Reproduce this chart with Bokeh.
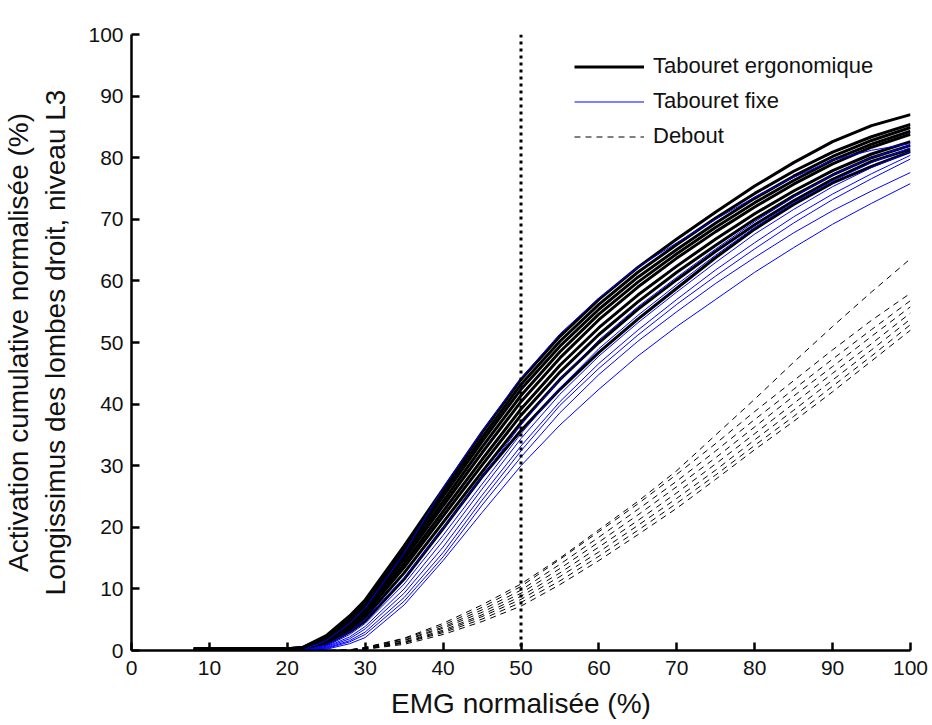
import math
from bokeh.plotting import figure
from bokeh.models import Span, Legend, LegendItem, FixedTicker
from bokeh.embed import file_html
from bokeh.resources import INLINE

nan = float("nan")

# EMG normalisée (%) sample points
emg = [0, 8, 20, 22, 25, 28, 30, 35, 40, 45, 50, 55, 60, 65, 70, 75, 80, 85, 90, 95, 100]

# Tabouret ergonomique (black, thick)
ergo_1 = [nan, 0.3, 0.3, 0.5, 2.4, 5.6, 8.2, 17.0, 26.2, 35.4, 44.0, 51.0, 57.0, 62.2, 66.8, 71.2, 75.4, 79.2, 82.6, 85.2, 87.0]
ergo_2 = [nan, 0.3, 0.3, 0.5, 2.2, 5.2, 7.8, 16.5, 25.6, 34.6, 43.2, 50.2, 56.2, 61.4, 65.9, 70.2, 74.2, 77.8, 80.9, 83.4, 85.4]
ergo_3 = [nan, 0.3, 0.3, 0.4, 2.1, 5.0, 7.5, 16.0, 25.0, 33.9, 42.4, 49.4, 55.4, 60.6, 65.1, 69.4, 73.4, 77.0, 80.2, 82.8, 84.9]
ergo_4 = [nan, 0.3, 0.3, 0.4, 1.9, 4.7, 7.1, 15.4, 24.2, 33.0, 41.4, 48.5, 54.6, 59.8, 64.4, 68.7, 72.7, 76.3, 79.6, 82.2, 84.3]
ergo_5 = [nan, 0.3, 0.3, 0.4, 1.8, 4.4, 6.7, 14.8, 23.5, 32.1, 40.4, 47.5, 53.7, 59.0, 63.7, 68.0, 72.0, 75.7, 79.0, 81.7, 83.8]
ergo_6 = [nan, 0.2, 0.2, 0.3, 1.6, 4.1, 6.3, 14.1, 22.6, 31.0, 39.2, 46.3, 52.4, 57.7, 62.4, 66.8, 70.9, 74.6, 77.9, 80.6, 82.6]
ergo_7 = [nan, 0.2, 0.2, 0.3, 1.4, 3.8, 5.9, 13.5, 21.8, 30.1, 38.2, 45.2, 51.3, 56.6, 61.4, 65.8, 70.0, 73.8, 77.2, 80.0, 82.0]
ergo_8 = [nan, 0.2, 0.2, 0.3, 1.2, 3.4, 5.4, 12.6, 20.8, 29.0, 37.0, 44.0, 50.0, 55.4, 60.2, 64.8, 69.1, 73.0, 76.5, 79.4, 81.4]
ergo_9 = [nan, 0.2, 0.2, 0.2, 1.0, 3.0, 4.8, 11.6, 19.8, 28.2, 35.7, 42.4, 48.4, 53.8, 58.8, 63.8, 68.4, 72.4, 75.9, 78.6, 81.0]

# Tabouret fixe (blue, thin)
fixe_1 = [0, 0, 0, 0.1, 1.6, 4.4, 6.9, 15.8, 26.4, 35.6, 44.2, 51.4, 57.2, 62.2, 66.2, 70.0, 73.6, 76.8, 79.6, 81.2, 82.3]
fixe_2 = [0, 0, 0, 0, 0.9, 3.0, 5.0, 11.8, 19.8, 28.2, 36.6, 44.0, 50.4, 55.8, 60.6, 65.2, 69.6, 73.6, 77.2, 80.0, 82.0]
fixe_3 = [0, 0, 0, 0, 0.7, 2.6, 4.4, 10.8, 18.7, 27.0, 35.2, 42.6, 49.0, 54.4, 59.4, 64.2, 68.7, 72.7, 76.2, 79.2, 81.6]
fixe_4 = [0, 0, 0, 0, 0.6, 2.2, 3.9, 10.0, 17.8, 26.2, 34.4, 41.6, 47.8, 53.2, 58.2, 63.0, 67.6, 71.6, 75.3, 78.4, 81.0]
fixe_5 = [0, 0, 0, 0, 0.5, 1.9, 3.5, 9.3, 16.8, 25.2, 33.2, 40.4, 46.6, 52.0, 57.0, 61.8, 66.2, 70.4, 74.1, 77.4, 80.4]
fixe_6 = [0, 0, 0, 0, 0.4, 1.6, 3.0, 8.6, 15.9, 24.4, 32.4, 39.8, 45.8, 51.2, 56.2, 60.8, 65.2, 69.4, 73.2, 76.6, 79.8]
fixe_7 = [0, 0, 0, 0, 0.3, 1.4, 2.6, 8.0, 15.2, 23.6, 31.4, 38.6, 44.8, 50.2, 55.0, 59.6, 63.8, 67.8, 71.4, 74.6, 77.6]
fixe_8 = [0, 0, 0, 0, 0.2, 1.1, 2.1, 7.4, 14.6, 22.4, 30.0, 36.6, 42.4, 47.8, 52.6, 57.0, 61.4, 65.4, 69.2, 72.6, 75.8]

# Debout (black, dashed)
debout_1 = [0, 0, 0, 0, 0, 0.1, 0.5, 2.0, 4.4, 7.4, 10.8, 15.0, 19.6, 24.2, 29.2, 35.0, 40.8, 46.8, 52.6, 58.2, 63.6]
debout_2 = [0, 0, 0, 0, 0, 0.1, 0.5, 1.9, 4.1, 7.0, 10.4, 14.8, 19.3, 23.8, 28.6, 33.6, 38.8, 43.8, 48.8, 53.6, 58.0]
debout_3 = [0, 0, 0, 0, 0, 0.1, 0.4, 1.7, 3.8, 6.6, 9.8, 14.0, 18.4, 22.9, 27.5, 32.4, 37.5, 42.4, 47.3, 52.1, 56.8]
debout_4 = [0, 0, 0, 0, 0, 0, 0.4, 1.6, 3.6, 6.2, 9.3, 13.3, 17.6, 22.0, 26.6, 31.3, 36.3, 41.3, 46.1, 51.0, 55.8]
debout_5 = [0, 0, 0, 0, 0, 0, 0.3, 1.4, 3.3, 5.8, 8.8, 12.6, 16.8, 21.1, 25.6, 30.3, 35.2, 40.1, 45.0, 49.8, 54.8]
debout_6 = [0, 0, 0, 0, 0, 0, 0.3, 1.3, 3.1, 5.5, 8.3, 12.0, 16.0, 20.3, 24.7, 29.3, 34.2, 39.0, 43.9, 48.8, 53.8]
debout_7 = [0, 0, 0, 0, 0, 0, 0.2, 1.2, 2.9, 5.1, 7.8, 11.3, 15.3, 19.5, 23.9, 28.5, 33.3, 38.0, 42.9, 47.8, 52.9]
debout_8 = [0, 0, 0, 0, 0, 0, 0.2, 1.0, 2.6, 4.7, 7.2, 10.7, 14.6, 18.8, 23.1, 27.8, 32.6, 37.2, 42.0, 47.0, 52.0]

ergo_series = [ergo_1, ergo_2, ergo_3, ergo_4, ergo_5, ergo_6, ergo_7, ergo_8, ergo_9]
fixe_series = [fixe_1, fixe_2, fixe_3, fixe_4, fixe_5, fixe_6, fixe_7, fixe_8]
debout_series = [debout_1, debout_2, debout_3, debout_4, debout_5, debout_6, debout_7, debout_8]

ticks = list(range(0, 101, 10))
threshold_emg = 50
legend_labels = ["Tabouret ergonomique", "Tabouret fixe", "Debout"]

FONT = "Liberation Sans"

p = figure(width=932, height=725, x_range=(0, 100), y_range=(0, 100),
           output_backend="svg", toolbar_location=None,
           min_border_left=130, min_border_right=22, min_border_top=34, min_border_bottom=75)
p.background_fill_color = "white"
p.border_fill_color = "white"
p.outline_line_color = None
p.xgrid.visible = False
p.ygrid.visible = False

r_ergo = []
for s in ergo_series:
    r_ergo.append(p.line(emg, s, line_color="black", line_width=3))
r_fixe = []
for s in fixe_series:
    r_fixe.append(p.line(emg, s, line_color="#0000ff", line_width=1))
r_debout = []
for s in debout_series:
    r_debout.append(p.line(emg, s, line_color="black", line_width=1, line_dash="6 5"))

p.add_layout(Span(location=threshold_emg, dimension="height", line_color="black",
                  line_width=3, line_dash="3 4"))

for ax in (p.xaxis, p.yaxis):
    ax.ticker = FixedTicker(ticks=ticks)
    ax.axis_line_width = 2.5
    ax.axis_line_color = "black"
    ax.major_tick_line_width = 2.5
    ax.major_tick_line_color = "black"
    ax.major_tick_in = 8
    ax.major_tick_out = 0
    ax.minor_tick_line_color = None
    ax.major_label_text_font = FONT
    ax.major_label_text_font_size = "21px"
    ax.major_label_text_color = "#111111"
    ax.axis_label_text_font = FONT
    ax.axis_label_text_font_size = "28px"
    ax.axis_label_text_font_style = "normal"
    ax.axis_label_text_color = "#111111"

p.xaxis.axis_label = "EMG normalisée (%)"
p.xaxis.major_label_standoff = 10
p.xaxis.axis_label_standoff = 10
p.yaxis.axis_label = "Activation cumulative normalisée (%)\nLongissimus des lombes droit, niveau L3"
p.yaxis.major_label_standoff = 8
p.yaxis.axis_label_standoff = 14

legend = Legend(items=[
    LegendItem(label=legend_labels[0], renderers=[r_ergo[0]]),
    LegendItem(label=legend_labels[1], renderers=[r_fixe[0]]),
    LegendItem(label=legend_labels[2], renderers=[r_debout[0]]),
], location=(443, 501), border_line_color=None, background_fill_alpha=0,
    glyph_width=70, glyph_height=25, label_height=25, spacing=9, padding=0, margin=0,
    label_standoff=9, label_text_font=FONT, label_text_font_size="22px",
    label_text_color="#111111")
p.add_layout(legend)

open("out.html", "w").write(file_html(p, INLINE))
